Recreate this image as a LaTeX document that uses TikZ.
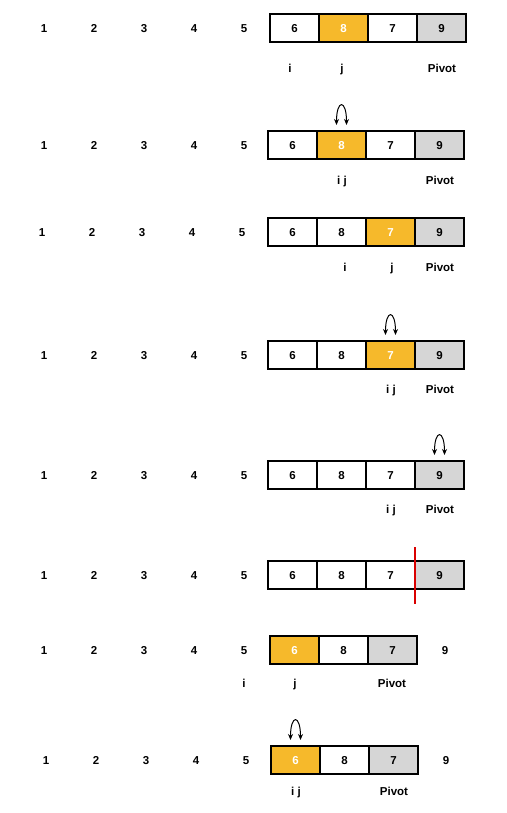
\documentclass[tikz,border=0pt]{standalone}
\usepackage{fontspec}
\setmainfont{Liberation Sans}
\usetikzlibrary{arrows.meta, positioning}
\definecolor{cellorange}{RGB}{246,185,43}
\definecolor{cellgrey}{RGB}{214,214,214}

\begin{document}
\begin{tikzpicture}[
  x=1pt, y=-1pt,
  node distance=0pt,
  font=\fontsize{11.5}{13}\selectfont\bfseries,
  cell/.style={draw, line width=1.3pt, outer sep=0pt, minimum width=49pt, minimum height=28pt, inner sep=0pt, text height=8.3pt, text depth=0pt},
  cello/.style={cell, fill=cellorange, text=white},
  cellg/.style={cell, fill=cellgrey},
  num/.style={inner sep=1pt, text height=8.3pt, text depth=0pt},
  tag/.style={inner sep=1pt, text height=8.5pt, text depth=2.5pt},
  swap/.style={{Stealth[length=6pt, width=5pt]}-{Stealth[length=6pt, width=5pt]}, line width=1pt},
  cut/.style={red!85!black, line width=1.3pt}
]
\useasboundingbox (0,0) rectangle (506,813);

% index numbers on the left of every row
\foreach \r/\y/\x in {1/28/44, 2/145/44, 3/232/42, 4/355/44, 5/475/44, 6/575/44, 7/650/44, 8/760/46}
  \foreach \k in {1,...,5}
    \node[num] (n\r-\k) at ({\x+50*(\k-1)},\y) {\k};

% Row 1
\node[cell] (a1) at (294.5,28) {6};
\node[cello, right=of a1] (a2) {8};
\node[cell, right=of a2] (a3) {7};
\node[cellg, right=of a3] (a4) {9};
\node[tag] (a-i) at (290,70) {i};
\node[tag] (a-j) at (342,70) {j};
\node[tag] (a-p) at (442,70) {Pivot};

% Row 2
\node[cell] (b1) at (292.5,145) {6};
\node[cello, right=of b1] (b2) {8};
\node[cell, right=of b2] (b3) {7};
\node[cellg, right=of b3] (b4) {9};
\node[tag] (b-ij) at (342,182) {i j};
\node[tag] (b-p) at (440,182) {Pivot};
\coordinate (b-l) at ([xshift=-5pt, yshift=6pt]b2.north);
\coordinate (b-r) at ([xshift=5pt, yshift=6pt]b2.north);
\draw[swap] (b-l) .. controls ([yshift=26pt]b-l) and ([yshift=26pt]b-r) .. (b-r);

% Row 3
\node[cell] (c1) at (292.5,232) {6};
\node[cell, right=of c1] (c2) {8};
\node[cello, right=of c2] (c3) {7};
\node[cellg, right=of c3] (c4) {9};
\node[tag] (c-i) at (345,268) {i};
\node[tag] (c-j) at (392,268) {j};
\node[tag] (c-p) at (440,268) {Pivot};

% Row 4
\node[cell] (d1) at (292.5,355) {6};
\node[cell, right=of d1] (d2) {8};
\node[cello, right=of d2] (d3) {7};
\node[cellg, right=of d3] (d4) {9};
\node[tag] (d-ij) at (391,390) {i j};
\node[tag] (d-p) at (440,390) {Pivot};
\coordinate (d-l) at ([xshift=-5pt, yshift=6pt]d3.north);
\coordinate (d-r) at ([xshift=5pt, yshift=6pt]d3.north);
\draw[swap] (d-l) .. controls ([yshift=26pt]d-l) and ([yshift=26pt]d-r) .. (d-r);

% Row 5
\node[cell] (e1) at (292.5,475) {6};
\node[cell, right=of e1] (e2) {8};
\node[cell, right=of e2] (e3) {7};
\node[cellg, right=of e3] (e4) {9};
\node[tag] (e-ij) at (391,510) {i j};
\node[tag] (e-p) at (440,510) {Pivot};
\coordinate (e-l) at ([xshift=-5pt, yshift=6pt]e4.north);
\coordinate (e-r) at ([xshift=5pt, yshift=6pt]e4.north);
\draw[swap] (e-l) .. controls ([yshift=26pt]e-l) and ([yshift=26pt]e-r) .. (e-r);

% Row 6
\node[cell] (f1) at (292.5,575) {6};
\node[cell, right=of f1] (f2) {8};
\node[cell, right=of f2] (f3) {7};
\node[cellg, right=of f3] (f4) {9};
\coordinate (f-top) at ([yshift=14pt]f4.north west);
\coordinate (f-bot) at ([yshift=-15pt]f4.south west);
\draw[cut] (f-top) -- (f-bot);

% Row 7
\node[cello] (g1) at (294.5,650) {6};
\node[cell, right=of g1] (g2) {8};
\node[cellg, right=of g2] (g3) {7};
\node[num] (g-9) at (445,650) {9};
\node[tag] (g-i) at (244,684) {i};
\node[tag] (g-j) at (295,684) {j};
\node[tag] (g-p) at (392,684) {Pivot};

% Row 8
\node[cello] (h1) at (295.5,760) {6};
\node[cell, right=of h1] (h2) {8};
\node[cellg, right=of h2] (h3) {7};
\node[num] (h-9) at (446,760) {9};
\node[tag] (h-ij) at (296,792) {i j};
\node[tag] (h-p) at (394,792) {Pivot};
\coordinate (h-l) at ([xshift=-5pt, yshift=6pt]h1.north);
\coordinate (h-r) at ([xshift=5pt, yshift=6pt]h1.north);
\draw[swap] (h-l) .. controls ([yshift=26pt]h-l) and ([yshift=26pt]h-r) .. (h-r);

\end{tikzpicture}
\end{document}
